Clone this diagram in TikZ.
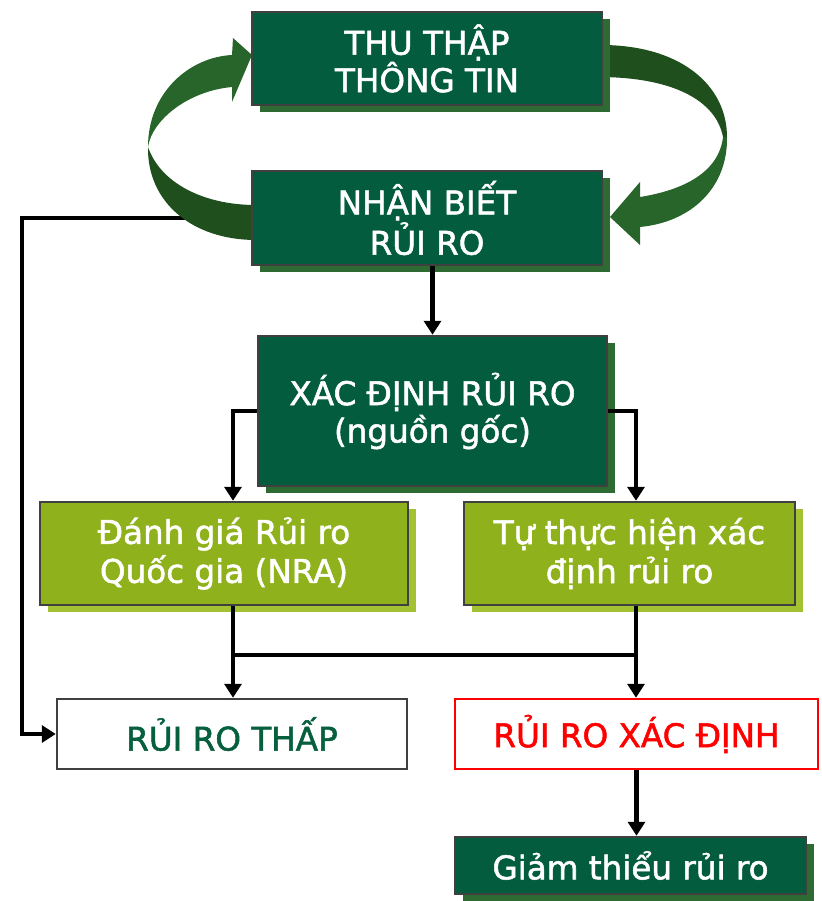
\documentclass[tikz,border=0pt]{standalone}
\usepackage{fontspec}
\setmainfont{DejaVu Sans}[FakeBold=1.6]
\usetikzlibrary{arrows.meta,shadows,backgrounds}
\definecolor{dkgreen}{HTML}{035C3D}
\definecolor{shgreen}{HTML}{2E6B33}
\definecolor{lime}{HTML}{8FB11B}
\definecolor{shlime}{HTML}{A2C232}
\definecolor{boxline}{HTML}{404040}
\definecolor{ribA}{HTML}{27652A}
\definecolor{ribB}{HTML}{1F4F1D}
\definecolor{rtext}{HTML}{06603E}
\begin{document}
\begin{tikzpicture}[x=0.5pt,y=-0.5pt,
  box/.style={draw=boxline, line width=1.25pt, inner sep=0pt, align=center,
    font=\fontsize{16.3}{18.7}\selectfont},
  darkbox/.style={box, fill=dkgreen, text=white,
    drop shadow={shadow xshift=4pt, shadow yshift=-3.5pt, fill=shgreen, opacity=1}},
  limebox/.style={box, fill=lime, text=white, font=\fontsize{16.3}{19.5}\selectfont,
    drop shadow={shadow xshift=4pt, shadow yshift=-3.5pt, fill=shlime, opacity=1}},
  whitebox/.style={box, fill=white},
  conn/.style={line width=2.2pt, -{Triangle[length=7pt,width=8.5pt]}},
  plainline/.style={line width=2.2pt}
]
\useasboundingbox (0,0) rectangle (821,901);

\node[darkbox, minimum width=175pt, minimum height=46.5pt] (tt) at (427,58.5) {THU THẬP\\THÔNG TIN};
\node[darkbox, minimum width=175pt, minimum height=47pt] (nb) at (427,218) {NHẬN BIẾT\\RỦI RO};
\node[darkbox, minimum width=174.5pt, minimum height=75pt] (xd) at (432.5,411) {XÁC ĐỊNH RỦI RO\\(nguồn gốc)};
\node[limebox, minimum width=184pt, minimum height=51.5pt] (dg) at (224,553.5) {Đánh giá Rủi ro\\Quốc gia (NRA)};
\node[limebox, minimum width=165.5pt, minimum height=51.5pt] (tu) at (629.5,553.5) {Tự thực hiện xác\\định rủi ro};
\node[whitebox, text=rtext, minimum width=175pt, minimum height=35pt] (rt) at (232,734) {RỦI RO THẤP};
\node[whitebox, draw=red, text=red, minimum width=181.5pt, minimum height=35pt] (rx) at (636.5,734) {RỦI RO XÁC ĐỊNH};
\node[darkbox, minimum width=175.5pt, minimum height=28.5pt] (gt) at (630.5,865.5) {Giảm thiểu rủi ro};

\coordinate (lc) at (22,218);
\coordinate (jl) at (233,655);
\coordinate (jr) at (636,655);

\begin{pgfonlayer}{background}
  \draw[conn] (nb.west) -- (lc) |- (rt.west);
  % left ribbon
  \fill[ribA] (252,55) -- (233,38) -- (232,55)
     .. controls (190,57) and (148,92) .. (148,147)
     .. controls (152,120) and (188,91) .. (232,87)
     -- (232,102) -- cycle;
  \fill[ribB] (148,147)
     .. controls (147,202) and (192,240) .. (256,240)
     -- (256,205)
     .. controls (202,205) and (160,182) .. (148,147) -- cycle;
  % right ribbon
  \fill[ribB] (598,45)
     .. controls (680,44) and (727,85) .. (727,137)
     -- (723,137)
     .. controls (716,100) and (672,77) .. (598,77) -- cycle;
  \fill[ribA] (727,137)
     .. controls (728,187) and (692,222) .. (640,227)
     -- (640,245) -- (610,217) -- (640,182) -- (640,197)
     .. controls (684,190) and (719,172) .. (723,137) -- cycle;
\end{pgfonlayer}

\draw[conn] (nb.south -| xd.north) -- (xd.north);
\draw[conn] (xd.west) -| ([xshift=4.5pt]dg.north);
\draw[conn] (xd.east) -| ([xshift=3.25pt]tu.north);
\draw[conn] ([xshift=4.5pt]dg.south) -- ([xshift=4.5pt]dg.south |- rt.north);
\draw[plainline] (jl) -- (jr);
\draw[conn] ([xshift=3.25pt]tu.south) -- ([xshift=3.25pt]tu.south |- rx.north);
\draw[conn] (rx.south) -- (rx.south |- gt.north);
\end{tikzpicture}
\end{document}
